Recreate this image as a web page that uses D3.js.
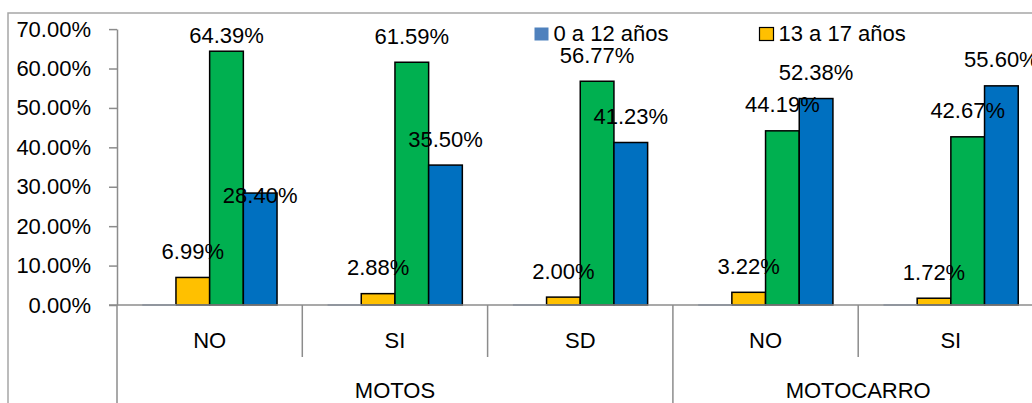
<!DOCTYPE html>
<html>
<head>
<meta charset="utf-8">
<script src="https://cdn.jsdelivr.net/npm/d3@7"></script>
<style>
  html, body { margin: 0; padding: 0; background: #fff; }
  svg { display: block; font-family: "Liberation Sans", Arial, sans-serif; }
</style>
</head>
<body>
<svg id="chart" width="1032" height="403"></svg>
<script>
// Sub-categories (inner axis level) and their vehicle type (outer level)
const subCategories = ["NO", "SI", "SD", "NO", "SI"];
const vehicleGroups = [
  { name: "MOTOS", span: [0, 2] },
  { name: "MOTOCARRO", span: [3, 4] }
];

// Age ranges
const seriesNames = ["0 a 12 años", "13 a 17 años", "18 a 59 años", "60 y más años"];

// Share per age range, one value per sub-category
const age0to12  = [0, 0, 0, 0, 0];
const age13to17 = [0.0699, 0.0288, 0.0200, 0.0322, 0.0172];
const age18to59 = [0.6439, 0.6159, 0.5677, 0.4419, 0.4267];
const age60plus = [0.2840, 0.3550, 0.4123, 0.5238, 0.5560];
const seriesValues = [age0to12, age13to17, age18to59, age60plus];

// Y axis ticks
const yTicks = [0, 0.1, 0.2, 0.3, 0.4, 0.5, 0.6, 0.7];

// Which series carry value labels, and per-label vertical lift (px above bar top)
const labelledSeries = [1, 2, 3];
const defaultLift = 26;
const liftOverrides = { "0-2": 16, "0-3": -2 };

const colors = ["#4F81BD", "#FFC000", "#00B050", "#0070C0"];
const fontSize = 22;

const svg = d3.select("#chart");

// Outer chart frame
svg.append("rect")
  .attr("x", 8).attr("y", 13)
  .attr("width", 1100).attr("height", 500)
  .attr("fill", "none").attr("stroke", "#a6a6a6").attr("stroke-width", 1.5);

const plotLeft = 117, groupStep = 185.3;
const baseY = 305;

const x0 = d3.scaleBand()
  .domain(d3.range(subCategories.length))
  .range([plotLeft, plotLeft + groupStep * subCategories.length])
  .paddingInner(0).paddingOuter(0);

const x1 = d3.scaleBand()
  .domain(d3.range(seriesNames.length))
  .range([0, x0.bandwidth()])
  .paddingInner(0).paddingOuter(0.75);

const y = d3.scaleLinear().domain([0, 0.7]).range([baseY, 29.1]);

// Y axis
const yAxis = svg.append("g")
  .attr("transform", `translate(${plotLeft},0)`)
  .call(d3.axisLeft(y).tickValues(yTicks).tickFormat(d3.format(".2%"))
    .tickSize(8).tickPadding(18).tickSizeOuter(0));
yAxis.select(".domain").attr("stroke", "#8c8c8c").attr("stroke-width", 1.5);
yAxis.selectAll(".tick line").attr("stroke", "#8c8c8c").attr("stroke-width", 1.5);
yAxis.selectAll(".tick text")
  .attr("font-size", fontSize).attr("fill", "#000")
  .attr("font-family", "'Liberation Sans', Arial, sans-serif");

// Bars
const groups = svg.append("g").selectAll("g")
  .data(subCategories.map((c, i) => i))
  .join("g")
  .attr("transform", i => `translate(${x0(i)},0)`);

groups.selectAll("rect")
  .data(gi => seriesValues.map((vals, si) => ({ gi, si, v: vals[gi] })))
  .join("rect")
  .attr("x", d => x1(d.si))
  .attr("y", d => y(d.v))
  .attr("width", x1.bandwidth())
  .attr("height", d => baseY - y(d.v))
  .attr("fill", d => colors[d.si])
  .attr("stroke", d => d.si === 0 ? colors[0] : "#000")
  .attr("stroke-width", 1.5);

// Category axis baseline
svg.append("line")
  .attr("x1", plotLeft - 8).attr("x2", 1032)
  .attr("y1", baseY).attr("y2", baseY)
  .attr("stroke", "#8c8c8c").attr("stroke-width", 1.5);

// Zero-height bars of the first series sit on the baseline
groups.append("line")
  .attr("x1", x1(0)).attr("x2", x1(0) + x1.bandwidth())
  .attr("y1", baseY).attr("y2", baseY)
  .attr("stroke", "#7f9cc4").attr("stroke-width", 1.5);

// Inner level dividers and labels
const outerStarts = new Set(vehicleGroups.map(g => g.span[0]));
subCategories.forEach((c, i) => {
  const xl = x0(i);
  svg.append("line")
    .attr("x1", xl).attr("x2", xl)
    .attr("y1", baseY).attr("y2", outerStarts.has(i) ? 403 : 357)
    .attr("stroke", "#8c8c8c").attr("stroke-width", 1.5);
  svg.append("text")
    .attr("x", xl + x0.bandwidth() / 2).attr("y", 340)
    .attr("text-anchor", "middle").attr("dominant-baseline", "central")
    .attr("font-size", fontSize).text(c);
});
// Right end divider
svg.append("line")
  .attr("x1", x0.range()[1]).attr("x2", x0.range()[1])
  .attr("y1", baseY).attr("y2", 403)
  .attr("stroke", "#8c8c8c").attr("stroke-width", 1.5);

// Outer level labels
vehicleGroups.forEach(g => {
  const xa = x0(g.span[0]);
  const xb = x0(g.span[1]) + x0.bandwidth();
  svg.append("text")
    .attr("x", (xa + xb) / 2).attr("y", 390)
    .attr("text-anchor", "middle").attr("dominant-baseline", "central")
    .attr("font-size", fontSize).text(g.name);
});

// Value labels
const fmt = d3.format(".2%");
labelledSeries.forEach(si => {
  seriesValues[si].forEach((v, gi) => {
    const lift = liftOverrides[`${gi}-${si}`] ?? defaultLift;
    svg.append("text")
      .attr("x", x0(gi) + x1(si) + x1.bandwidth() / 2)
      .attr("y", y(v) - lift)
      .attr("text-anchor", "middle").attr("dominant-baseline", "central")
      .attr("font-size", fontSize).attr("fill", "#000")
      .text(fmt(v));
  });
});

// Legend (first two entries)
const legendItems = [
  { si: 0, x: 534.5, border: false },
  { si: 1, x: 759.5, border: true }
];
legendItems.forEach(it => {
  svg.append("rect")
    .attr("x", it.x).attr("y", 27.5).attr("width", 14).attr("height", 13)
    .attr("fill", colors[it.si])
    .attr("stroke", it.border ? "#000" : "none").attr("stroke-width", 1.2);
  svg.append("text")
    .attr("x", it.x + 19).attr("y", 33.5)
    .attr("dominant-baseline", "central")
    .attr("font-size", fontSize).text(seriesNames[it.si]);
});
</script>
</body>
</html>
